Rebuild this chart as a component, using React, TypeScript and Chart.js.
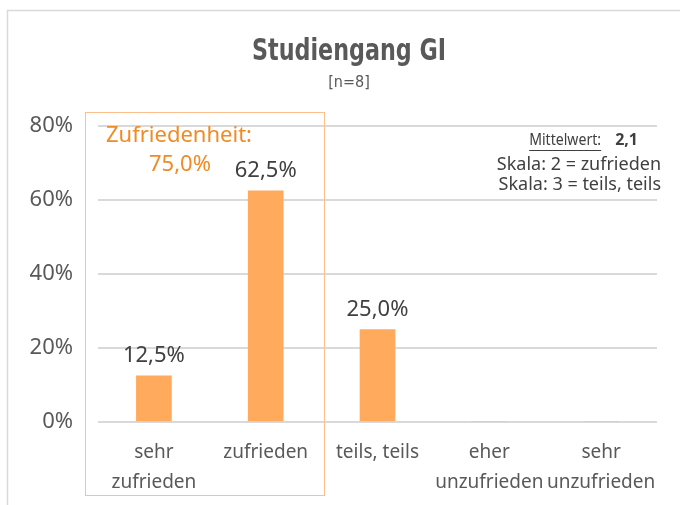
import React, { useEffect, useRef } from "react";
import { Chart, registerables } from "chart.js";

Chart.register(...registerables);

const categories: string[][] = [
  ["sehr", "zufrieden"],
  ["zufrieden"],
  ["teils, teils"],
  ["eher", "unzufrieden"],
  ["sehr", "unzufrieden"],
];
const values = [12.5, 62.5, 25.0, 0, 0];
const valueLabels = ["12,5%", "62,5%", "25,0%", "", ""];
const yMax = 80;
const yStep = 20;
const titleText = "Studiengang GI";
const subtitleText = "[n=8]";
const highlightTitle = "Zufriedenheit:";
const highlightValue = "75,0%";
const meanLabel = "Mittelwert:";
const meanValue = "2,1";
const scaleNotes = ["Skala: 2 = zufrieden", "Skala: 3 = teils, teils"];

const FONT = "'Noto Sans', 'DejaVu Sans', sans-serif";
const ORANGE_TEXT = "#F08A24";

const decorPlugin = {
  id: "decor",
  beforeDraw(chart: any) {
    const ctx = chart.ctx;
    ctx.save();
    ctx.fillStyle = "#ffffff";
    ctx.fillRect(0, 0, chart.width, chart.height);
    ctx.strokeStyle = "#d9d9d9";
    ctx.lineWidth = 1.5;
    ctx.strokeRect(7.5, 10.5, chart.width + 20, chart.height + 20);
    ctx.restore();
  },
  afterDraw(chart: any) {
    const ctx = chart.ctx;
    const xs = chart.scales.x;
    ctx.save();
    // title (condensed look)
    ctx.fillStyle = "#595959";
    ctx.textAlign = "center";
    ctx.textBaseline = "middle";
    ctx.font = "bold 30px 'DejaVu Sans', sans-serif";
    const tw = ctx.measureText(titleText).width;
    const sx = 194 / tw;
    ctx.save();
    ctx.translate(349, 52);
    ctx.scale(sx, 1);
    ctx.fillText(titleText, 0, 0);
    ctx.restore();
    ctx.font = "16px 'DejaVu Sans Condensed', sans-serif";
    ctx.fillText(subtitleText, 349, 83);

    // highlight box around first two categories
    const half = (xs.getPixelForValue(1) - xs.getPixelForValue(0)) / 2;
    const bx0 = Math.round(xs.getPixelForValue(0) - half - 13) + 0.5;
    const bx1 = Math.round(xs.getPixelForValue(1) + half + 2) + 0.5;
    ctx.strokeStyle = "#FBC08E";
    ctx.lineWidth = 1;
    ctx.strokeRect(bx0, 112.5, bx1 - bx0, 383);

    ctx.fillStyle = ORANGE_TEXT;
    ctx.font = "22px " + FONT;
    ctx.textAlign = "left";
    ctx.fillText(highlightTitle, 106, 136);
    ctx.textAlign = "center";
    ctx.fillText(highlightValue, 180, 165);

    // data labels
    ctx.fillStyle = "#404040";
    ctx.font = "22px " + FONT;
    const meta = chart.getDatasetMeta(0);
    meta.data.forEach((bar: any, i: number) => {
      if (!valueLabels[i]) return;
      ctx.fillText(valueLabels[i], bar.x, bar.y - 20);
    });

    // mean / scale notes
    ctx.fillStyle = "#404040";
    ctx.textAlign = "left";
    const right = 661;
    ctx.font = "bold 16px " + FONT;
    const mvw = ctx.measureText(meanValue).width;
    const mvx = right - mvw - 23;
    ctx.fillText(meanValue, mvx, 140);
    ctx.font = "17px " + FONT;
    const mlw0 = ctx.measureText(meanLabel).width;
    const mlw = 72;
    const mlx = mvx - 14 - mlw;
    ctx.save();
    ctx.translate(mlx, 140);
    ctx.scale(mlw / mlw0, 1);
    ctx.fillText(meanLabel, 0, 0);
    ctx.restore();
    ctx.fillRect(mlx, 150, mlw, 1);
    ctx.font = "18px " + FONT;
    ctx.textAlign = "right";
    ctx.fillText(scaleNotes[0], right, 165);
    ctx.fillText(scaleNotes[1], right, 185);
    ctx.restore();
  },
};

export default function App() {
  const ref = useRef<HTMLCanvasElement | null>(null);
  useEffect(() => {
    document.body.style.margin = "0";
    const canvas = ref.current!;
    const chart = new Chart(canvas, {
      type: "bar",
      data: {
        labels: categories as any,
        datasets: [
          {
            data: values,
            backgroundColor: "#FFAA5C",
            borderWidth: 0,
            barThickness: 35,
          },
        ],
      },
      options: {
        responsive: false,
        animation: false,
        devicePixelRatio: 1,
        layout: { padding: { top: 126, right: 23, left: 0, bottom: 0 } },
        plugins: {
          legend: { display: false },
          title: { display: false },
          tooltip: { enabled: false },
        },
        scales: {
          x: {
            grid: { display: false, drawTicks: false },
            border: { display: false },
            ticks: {
              color: "#595959",
              font: { family: FONT, size: 19, lineHeight: 1.55 },
              padding: 16,
              maxRotation: 0,
              autoSkip: false,
            },
            afterFit(scale: any) {
              scale.height = 83;
            },
          },
          y: {
            min: 0,
            max: yMax,
            border: { display: false },
            grid: { color: "#d9d9d9", lineWidth: 2, drawTicks: false },
            ticks: {
              stepSize: yStep,
              color: "#595959",
              font: { family: FONT, size: 22 },
              padding: 25,
              callback: (v: any) => v + "%",
            },
            afterFit(scale: any) {
              scale.width = 98;
            },
          },
        },
      },
      plugins: [decorPlugin],
    });
    return () => chart.destroy();
  }, []);
  return <canvas ref={ref} width={680} height={505} style={{ display: "block", width: 680, height: 505 }} />;
}
